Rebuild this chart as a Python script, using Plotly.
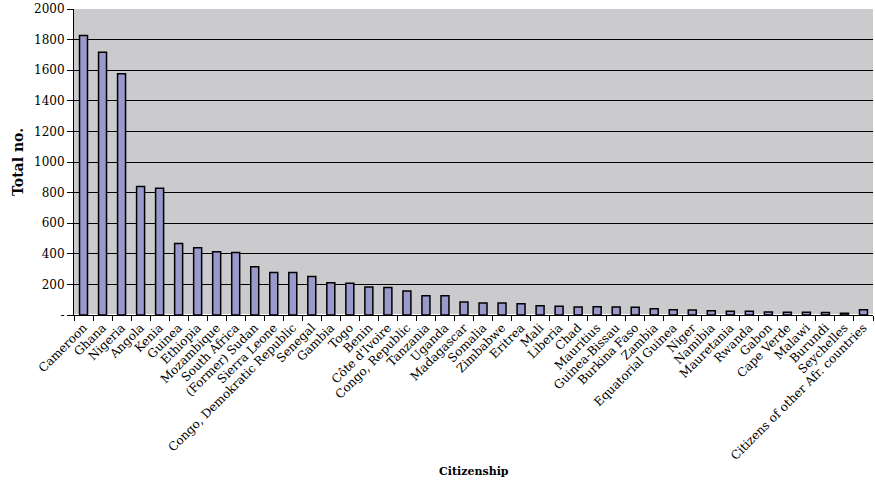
import plotly.graph_objects as go

countries = ["Cameroon", "Ghana", "Nigeria", "Angola", "Kenia", "Guinea", "Ethiopia",
             "Mozambique", "South Africa", "(Former) Sudan", "Sierra Leone",
             "Congo, Demokratic Republic", "Senegal", "Gambia", "Togo", "Benin",
             "Côte d'Ivoire", "Congo, Republic", "Tanzania", "Uganda", "Madagascar",
             "Somalia", "Zimbabwe", "Eritrea", "Mali", "Liberia", "Chad", "Mauritius",
             "Guinea-Bissau", "Burkina Faso", "Zambia", "Equatorial Guinea", "Niger",
             "Namibia", "Mauretania", "Rwanda", "Gabon", "Cape Verde", "Malawi",
             "Burundi", "Seychelles", "Citizens of other Afr. countries"]
totals = [1826, 1717, 1577, 840, 829, 467, 440, 414, 408, 316, 277,
          277, 251, 211, 207, 183, 179, 157, 126, 126, 85,
          78, 78, 74, 61, 57, 52, 54, 52, 50, 41, 35, 33,
          28, 24, 24, 20, 18, 18, 16, 11, 35]
y_ticks = [0, 200, 400, 600, 800, 1000, 1200, 1400, 1600, 1800, 2000]
y_tick_labels = ["-", "200", "400", "600", "800", "1000", "1200", "1400", "1600", "1800", "2000"]

FONT = "DejaVu Serif"

fig = go.Figure(go.Bar(
    x=countries, y=totals,
    marker=dict(color="#9999CC", line=dict(color="black", width=1.5)),
    width=0.42,
))

pw = 875 - 74 - 2
ph = 482 - 9 - 167

fig.update_layout(
    width=875, height=482,
    margin=dict(l=74, r=2, t=9, b=167),
    paper_bgcolor="white",
    plot_bgcolor="#CBCBCD",
    font=dict(family=FONT, size=12, color="black"),
    showlegend=False,
    xaxis=dict(
        type="category", tickangle=-45, tickson="boundaries",
        ticks="outside", ticklen=5, tickcolor="black",
        showline=True, linecolor="black", linewidth=1,
        showgrid=False, tickfont=dict(family=FONT, size=12),
        automargin=False,
    ),
    yaxis=dict(
        range=[0, 2000], tickvals=y_ticks, ticktext=y_tick_labels,
        ticks="outside", ticklen=6, tickcolor="black",
        showline=True, linecolor="black", linewidth=1,
        showgrid=True, gridcolor="black", gridwidth=1,
        tickfont=dict(family=FONT, size=12), automargin=False,
    ),
    annotations=[
        dict(text="<b>Total no.</b>", x=(18 - 74) / pw, y=(315 - 162) / ph,
             xref="paper", yref="paper", xanchor="center", yanchor="middle",
             showarrow=False, textangle=-90, font=dict(family=FONT, size=14)),
        dict(text="<b>Citizenship</b>", x=(474 - 74) / pw, y=(315 - 471) / ph,
             xref="paper", yref="paper", xanchor="center", yanchor="middle",
             showarrow=False, font=dict(family=FONT, size=11)),
    ],
)

fig.write_html("out.html")
